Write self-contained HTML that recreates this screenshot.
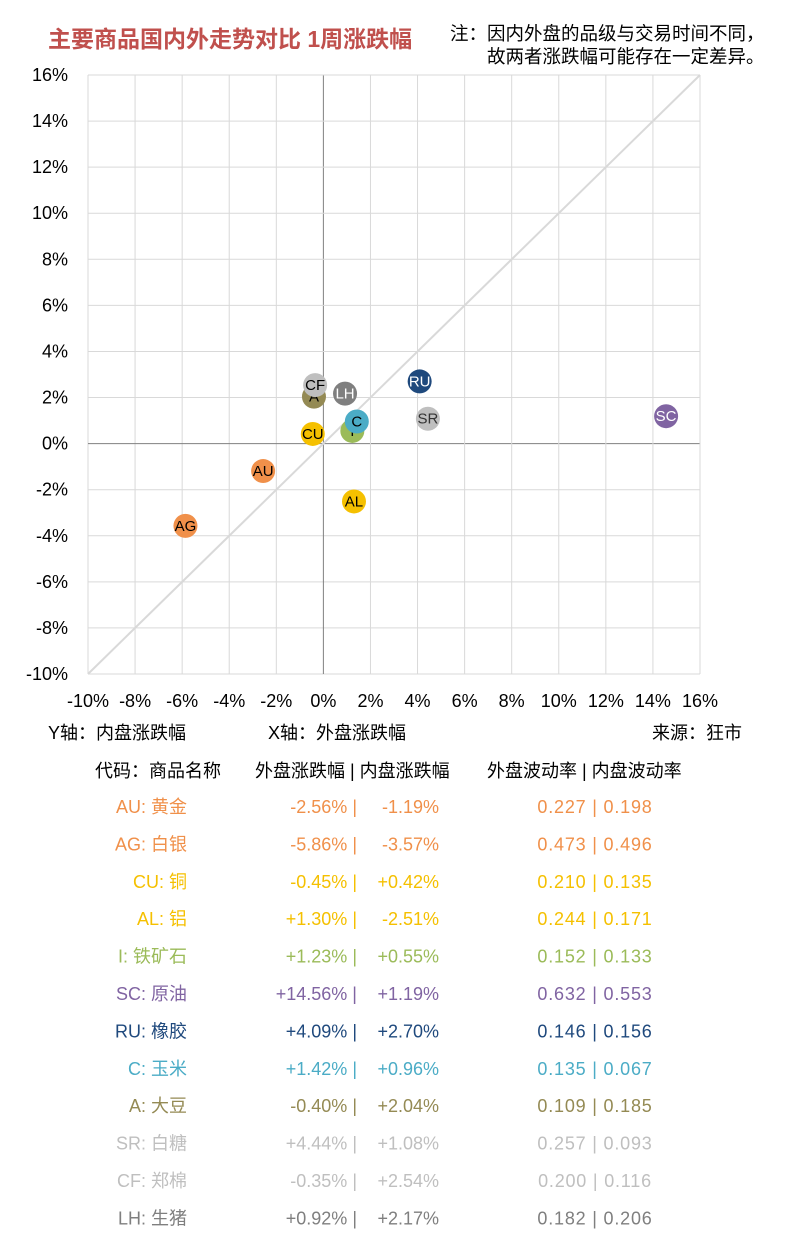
<!DOCTYPE html>
<html><head><meta charset="utf-8">
<style>
body{margin:0;background:#fff;width:788px;height:1239px;overflow:hidden;font-family:"Liberation Sans","Noto Sans CJK SC",sans-serif}
svg text{font-family:"Liberation Sans","Noto Sans CJK SC",sans-serif}
</style></head><body>
<svg id="chart" width="788" height="1239" xmlns="http://www.w3.org/2000/svg">
<text x="48" y="47" font-size="23" font-weight="bold" fill="#C0504D">主要商品国内外走势对比 1周涨跌幅</text>
<text x="450" y="40" font-size="18.5" fill="#000">注：因内外盘的品级与交易时间不同，</text>
<text x="487" y="63" font-size="18.5" fill="#000">故两者涨跌幅可能存在一定差异。</text>
<g id="grid"></g><g id="pts"></g><g id="tbl"></g>
<text x="48" y="739" font-size="18">Y轴：内盘涨跌幅</text>
<text x="268" y="739" font-size="18">X轴：外盘涨跌幅</text>
<text x="652" y="739" font-size="18">来源：狂市</text>
<text x="95" y="777" font-size="18">代码：商品名称</text>
<text x="255" y="777" font-size="18">外盘涨跌幅 | 内盘涨跌幅</text>
<text x="487" y="777" font-size="18">外盘波动率 | 内盘波动率</text>
</svg>
<script>
const codes=["AU","AG","CU","AL","I","SC","RU","C","A","SR","CF","LH"];
const names=["黄金","白银","铜","铝","铁矿石","原油","橡胶","玉米","大豆","白糖","郑棉","生猪"];
const xVals=[-2.56,-5.86,-0.45,1.30,1.23,14.56,4.09,1.42,-0.40,4.44,-0.35,0.92];
const yVals=[-1.19,-3.57,0.42,-2.51,0.55,1.19,2.70,0.96,2.04,1.08,2.54,2.17];
const volOut=["0.227","0.473","0.210","0.244","0.152","0.632","0.146","0.135","0.109","0.257","0.200","0.182"];
const volIn=["0.198","0.496","0.135","0.171","0.133","0.553","0.156","0.067","0.185","0.093","0.116","0.206"];
const ticks=[-10,-8,-6,-4,-2,0,2,4,6,8,10,12,14,16];
const colors=["#F0904A","#F0904A","#F5C000","#F5C000","#9BBB59","#8064A2","#1F497D","#4BACC6","#948A54","#BFBFBF","#BFBFBF","#7F7F7F"];
const labelCol=["#000","#000","#000","#000","#000","#fff","#fff","#000","#000","#333","#000","#fff"];
const NS="http://www.w3.org/2000/svg";
const X0=88,X1=700,Y0=674,Y1=75;
const sx=v=>X0+(v+10)/26*(X1-X0), sy=v=>Y0-(v+10)/26*(Y0-Y1);
function mk(t,a,p){const e=document.createElementNS(NS,t);for(const k in a)e.setAttribute(k,a[k]);p.appendChild(e);return e;}
const g=document.getElementById('grid');
ticks.forEach(t=>{
 const v=mk('line',{x1:sx(t),x2:sx(t),y1:Y1,y2:Y0,stroke:t===0?'#808080':'#d9d9d9','stroke-width':1},g);
 
 
 const h=mk('line',{x1:X0,x2:X1,y1:sy(t),y2:sy(t),stroke:t===0?'#808080':'#d9d9d9','stroke-width':1},g);
 
 
 const xl=mk('text',{x:sx(t),y:707,'font-size':18,'text-anchor':'middle'},g);xl.textContent=t+'%';
 
 
 const yl=mk('text',{x:68,y:sy(t)+6,'font-size':18,'text-anchor':'end'},g);yl.textContent=t+'%';
 
 
});
const d=mk('line',{x1:sx(-10),y1:sy(-10),x2:sx(16),y2:sy(16),stroke:'#d9d9d9','stroke-width':2},g);


const p=document.getElementById('pts');
codes.forEach((c,i)=>{
 const ci=mk('circle',{cx:sx(xVals[i]),cy:sy(yVals[i]),r:12,fill:colors[i]},p);
 
 
 const t=mk('text',{x:sx(xVals[i]),y:sy(yVals[i])+5,'font-size':15,'text-anchor':'middle',fill:labelCol[i]},p);t.textContent=c;
 
 
});
const tb=document.getElementById('tbl');
const f=v=>(v>0?'+':(v<0?'-':''))+Math.abs(v).toFixed(2)+'%';
codes.forEach((c,i)=>{
 const y=813+i*37.4;
 const a=mk('text',{x:187,y:y,'font-size':18,'text-anchor':'end',fill:colors[i]},tb);a.textContent=c+': '+names[i];
 
 
 const b=mk('text',{x:357,y:y,'font-size':18,'text-anchor':'end',fill:colors[i]},tb);b.textContent=f(xVals[i])+' |';
 
 
 const b2=mk('text',{x:439,y:y,'font-size':18,'text-anchor':'end',fill:colors[i]},tb);b2.textContent=f(yVals[i]);
 
 
 const e=mk('text',{x:595,y:y,'font-size':18,'text-anchor':'middle','letter-spacing':0.8,fill:colors[i]},tb);e.textContent=volOut[i]+' | '+volIn[i];
 
 
});
</script>
</body></html>
